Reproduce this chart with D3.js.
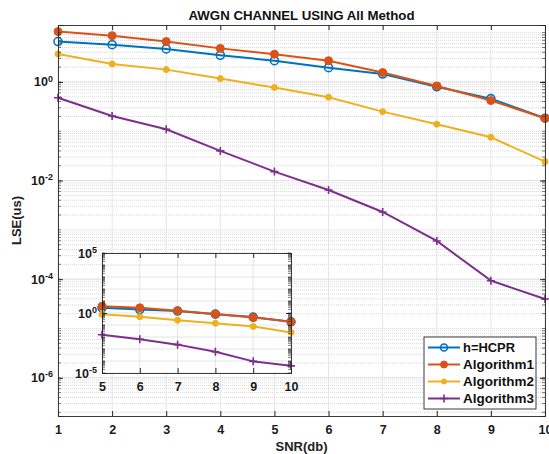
<!DOCTYPE html>
<html>
<head>
<meta charset="utf-8">
<script src="https://cdn.jsdelivr.net/npm/d3@7"></script>
<style>
  body { margin: 0; background: #fff; }
  svg { display: block; font-family: "Liberation Sans", Arial, sans-serif; font-weight: bold; }
</style>
</head>
<body>
<script>
const snr = [1, 2, 3, 4, 5, 6, 7, 8, 9, 10];
const hcpr = [6.6, 5.7, 4.67, 3.48, 2.7, 1.95, 1.45, 0.80, 0.46, 0.184];
const alg1 = [10.5, 8.7, 6.6, 4.8, 3.65, 2.7, 1.55, 0.83, 0.42, 0.184];
const alg2 = [3.7, 2.32, 1.78, 1.17, 0.77, 0.49, 0.25, 0.139, 0.0756, 0.0242];
const alg3 = [0.48, 0.204, 0.11, 0.040, 0.0152, 0.00645, 0.00231, 0.000596, 0.0000933, 0.0000396];
const names = ['h=HCPR', 'Algorithm1', 'Algorithm2', 'Algorithm3'];
const yTicks = [1e-6, 1e-4, 1e-2, 1];
const insetYTicks = [1e-5, 1, 1e5];
const insetX = [5, 6, 7, 8, 9, 10];

const colors = ['#0072BD', '#D95319', '#EDB120', '#7E2F8E'];
const markers = ['o', 'dot', 'sdot', '+'];
const series = [hcpr, alg1, alg2, alg3].map((vals, i) => ({
    name: names[i], color: colors[i], marker: markers[i],
    pts: snr.map((s, j) => ({x: s, y: vals[j]}))
}));

const W = 549, H = 454;
const svg = d3.select('body').append('svg').attr('width', W).attr('height', H);

// main scales
const X = d3.scaleLinear().domain([1, 10]).range([58, 545]);
const Y = d3.scaleLog().domain([1.68e-7, 14.3]).range([416, 25]);

function minorVals(lo, hi) {
    let out = [];
    for (let e = Math.floor(Math.log10(lo)); e <= Math.ceil(Math.log10(hi)); e++)
        for (let k = 1; k <= 9; k++) {
            let v = k * Math.pow(10, e);
            if (v >= lo && v <= hi) out.push(v);
        }
    return out;
}

function drawMarker(g, d, s, xs, ys, r) {
    let cx = xs(d.x), cy = ys(d.y);
    if (s.marker === '+') {
        g.append('path').attr('d', `M${cx - 4},${cy}H${cx + 4}M${cx},${cy - 4}V${cy + 4}`)
            .attr('stroke', s.color).attr('stroke-width', 1.6);
    } else if (s.marker === 'o') {
        g.append('circle').attr('cx', cx).attr('cy', cy).attr('r', r)
            .attr('fill', 'none').attr('stroke', s.color).attr('stroke-width', 1.6);
    } else {
        g.append('circle').attr('cx', cx).attr('cy', cy).attr('r', s.marker === 'dot' ? r : r - 1)
            .attr('fill', s.color).attr('stroke', s.color).attr('stroke-width', 1);
    }
}

function plotAxes(g, xs, ys, xVals, yMajor, opts) {
    const [x0, x1] = xs.range(), [y1, y0] = ys.range();
    g.append('rect').attr('x', x0).attr('y', y0).attr('width', x1 - x0).attr('height', y1 - y0)
        .attr('fill', '#fff');
    // minor grid
    if (opts.minorGrid) {
        g.selectAll('.mg').data(minorVals(...ys.domain())).join('line')
            .attr('x1', x0).attr('x2', x1).attr('y1', d => ys(d)).attr('y2', d => ys(d))
            .attr('stroke', '#c8c8c8').attr('stroke-width', 0.7).attr('stroke-dasharray', '1,1');
    }
    // major grid
    g.selectAll('.gx').data(xVals).join('line')
        .attr('x1', d => xs(d)).attr('x2', d => xs(d)).attr('y1', y0).attr('y2', y1)
        .attr('stroke', '#dedede').attr('stroke-width', 0.8);
    g.selectAll('.gy').data(opts.gridY).join('line')
        .attr('x1', x0).attr('x2', x1).attr('y1', d => ys(d)).attr('y2', d => ys(d))
        .attr('stroke', '#dedede').attr('stroke-width', 0.8);

    // data
    series.forEach(s => {
        const pts = s.pts.filter(p => p.x >= xs.domain()[0]);
        g.append('path').datum(pts)
            .attr('d', d3.line().x(d => xs(d.x)).y(d => ys(d.y)))
            .attr('fill', 'none').attr('stroke', s.color).attr('stroke-width', 2);
        const mg = g.append('g');
        pts.forEach(p => drawMarker(mg, p, s, xs, ys, 4));
    });

    // axes
    const fs = opts.fontSize;
    const ax = g.append('g').attr('transform', `translate(0,${y1})`)
        .call(d3.axisBottom(xs).tickValues(xVals).tickSize(-5).tickPadding(opts.xPad).tickFormat(d3.format('d')));
    const axT = g.append('g').attr('transform', `translate(0,${y0})`)
        .call(d3.axisTop(xs).tickValues(xVals).tickSize(-5).tickFormat(''));
    const ay = g.append('g').attr('transform', `translate(${x0},0)`)
        .call(d3.axisLeft(ys).tickValues(yMajor).tickSize(-5).tickPadding(5).tickFormat(''));
    const ayR = g.append('g').attr('transform', `translate(${x1},0)`)
        .call(d3.axisRight(ys).tickValues(yMajor).tickSize(-5).tickFormat(''));
    [ax, axT, ay, ayR].forEach(a => {
        a.select('.domain').attr('stroke', '#262626').attr('stroke-width', 0.9);
        a.selectAll('.tick line').attr('stroke', '#262626');
        a.selectAll('text').attr('font-size', fs).attr('font-family', null).attr('fill', '#1a1a1a');
    });
    // minor y ticks
    const mv = minorVals(...ys.domain());
    g.selectAll('.mtl').data(mv).join('line')
        .attr('x1', x0).attr('x2', x0 + 3).attr('y1', d => ys(d)).attr('y2', d => ys(d))
        .attr('stroke', '#262626').attr('stroke-width', 0.6);
    g.selectAll('.mtr').data(mv).join('line')
        .attr('x1', x1).attr('x2', x1 - 3).attr('y1', d => ys(d)).attr('y2', d => ys(d))
        .attr('stroke', '#262626').attr('stroke-width', 0.6);
    // y tick labels 10^n
    ay.selectAll('.tick').each(function (d) {
        const t = d3.select(this).select('text').attr('dy', '0.32em').attr('x', -5);
        t.text('10').append('tspan').attr('dy', '-0.55em').attr('font-size', fs * 0.72)
            .text(Math.round(Math.log10(d)));
    });
}

// main axes
const main = svg.append('g');
plotAxes(main, X, Y, snr, yTicks, {
    minorGrid: true, gridY: yTicks, fontSize: 12.5, xPad: 9
});

// title and labels
svg.append('text').attr('x', (58 + 545) / 2).attr('y', 20).attr('text-anchor', 'middle')
    .attr('font-size', 13).attr('textLength', 226).attr('lengthAdjust', 'spacingAndGlyphs')
    .attr('fill', '#111').text('AWGN CHANNEL USING All Method');
svg.append('text').attr('x', (58 + 545) / 2).attr('y', 451).attr('text-anchor', 'middle')
    .attr('font-size', 13).attr('fill', '#222').text('SNR(db)');
svg.append('text').attr('transform', `translate(21,${(25 + 416) / 2}) rotate(-90)`)
    .attr('text-anchor', 'middle').attr('font-size', 13).attr('fill', '#222').text('LSE(us)');

// inset
const XI = d3.scaleLinear().domain([5, 10]).range([102, 291]);
const YI = d3.scaleLog().domain([1e-5, 1e5]).range([373, 253]);
const inset = svg.append('g');
plotAxes(inset, XI, YI, insetX, insetYTicks, {
    minorGrid: false, gridY: d3.range(-5, 6).map(e => Math.pow(10, e)), fontSize: 12.5, xPad: 9
});

// legend
const lg = svg.append('g');
lg.append('rect').attr('x', 424).attr('y', 337).attr('width', 112).attr('height', 72)
    .attr('fill', '#fff').attr('stroke', '#262626').attr('stroke-width', 0.9);
series.forEach((s, i) => {
    const yy = 347.5 + i * 17;
    lg.append('line').attr('x1', 428).attr('x2', 460).attr('y1', yy).attr('y2', yy)
        .attr('stroke', s.color).attr('stroke-width', 2);
    drawMarker(lg, {x: 444, y: yy}, s, v => v, v => v, 3.5);
    lg.append('text').attr('x', 463).attr('y', yy).attr('dy', '0.35em')
        .attr('font-size', 13).attr('textLength', 71).attr('lengthAdjust', 'spacingAndGlyphs')
        .attr('fill', '#111').text(s.name).filter(() => s.name.length < 9).attr('textLength', 52);
});
</script>
</body>
</html>
